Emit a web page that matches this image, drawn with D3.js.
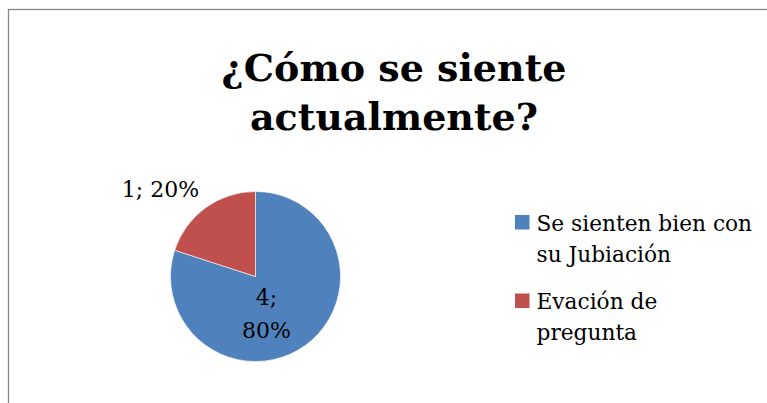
<!DOCTYPE html>
<html>
<head>
<meta charset="utf-8">
<script src="https://cdn.jsdelivr.net/npm/d3@7"></script>
<style>
  body { margin: 0; background: #fff; }
  svg text { font-family: "DejaVu Serif", serif; fill: #000; }
</style>
</head>
<body>
<div id="chart"></div>
<script>
// Data ----------------------------------------------------------------------
var categories = ["Se sienten bien con su Jubiación", "Evación de pregunta"];
var legendLines = [["Se sienten bien con", "su Jubiación"], ["Evación de", "pregunta"]];
var values = [4, 1];
var colors = ["#4F81BD", "#C0504D"];
var titleLines = ["¿Cómo se siente", "actualmente?"];

var width = 767,
    height = 403;

var cx = 255.5,
    cy = 276.5,
    radius = 85;

var svg = d3.select("#chart").append("svg")
    .attr("width", width)
    .attr("height", height);

// chart border
svg.append("rect")
    .attr("x", 8.5)
    .attr("y", 9.5)
    .attr("width", 800)
    .attr("height", 500)
    .attr("fill", "none")
    .attr("stroke", "#878787")
    .attr("stroke-width", 1.3);

// Title ---------------------------------------------------------------------
svg.append("text")
    .attr("x", 394)
    .attr("y", 81)
    .attr("text-anchor", "middle")
    .style("font-size", "38px")
    .style("font-weight", "bold")
    .selectAll("tspan")
    .data(titleLines)
    .enter().append("tspan")
    .attr("x", 394)
    .attr("dy", function(d, i) { return i ? 49 : 0; })
    .text(function(d) { return d; });

// Pie -----------------------------------------------------------------------
var total = d3.sum(values);
var pie = d3.pie().sort(null)(values);
var arc = d3.arc().innerRadius(0).outerRadius(radius);

var g = svg.append("g")
    .attr("transform", "translate(" + cx + "," + cy + ")");

g.selectAll("path.slice")
    .data(pie)
    .enter().append("path")
    .attr("class", "slice")
    .attr("d", arc)
    .attr("fill", function(d, i) { return colors[i]; })
    .attr("stroke", "#ffffff")
    .attr("stroke-width", 0.6);

// data labels: value; percent
var labelPos = [
    { dx: 11, dy: 28, lines: 2 },
    { dx: -95, dy: -80, lines: 1 }
];

pie.forEach(function(d, i) {
    var pct = Math.round(d.data / total * 100) + "%";
    var parts = labelPos[i].lines == 2 ? [d.data + ";", pct] : [d.data + "; " + pct];
    var t = g.append("text")
        .attr("text-anchor", "middle")
        .style("font-size", "22px");
    t.selectAll("tspan")
        .data(parts)
        .enter().append("tspan")
        .attr("x", labelPos[i].dx)
        .attr("y", function(p, j) { return labelPos[i].dy + j * 33.5; })
        .text(function(p) { return p; });
});

// Legend --------------------------------------------------------------------
var legend = svg.append("g")
    .attr("transform", "translate(515,215)");

var item = legend.selectAll("g.item")
    .data(categories)
    .enter().append("g")
    .attr("class", "item")
    .attr("transform", function(d, i) { return "translate(0," + (i * 78.5) + ")"; });

item.append("rect")
    .attr("width", 14.5)
    .attr("height", 14.5)
    .attr("fill", function(d, i) { return colors[i]; });

item.append("text")
    .style("font-size", "21.7px")
    .selectAll("tspan")
    .data(function(d, i) { return legendLines[i]; })
    .enter().append("tspan")
    .attr("x", 21.5)
    .attr("y", function(d, j) { return 15.5 + j * 31; })
    .text(function(d) { return d; });
</script>
</body>
</html>
